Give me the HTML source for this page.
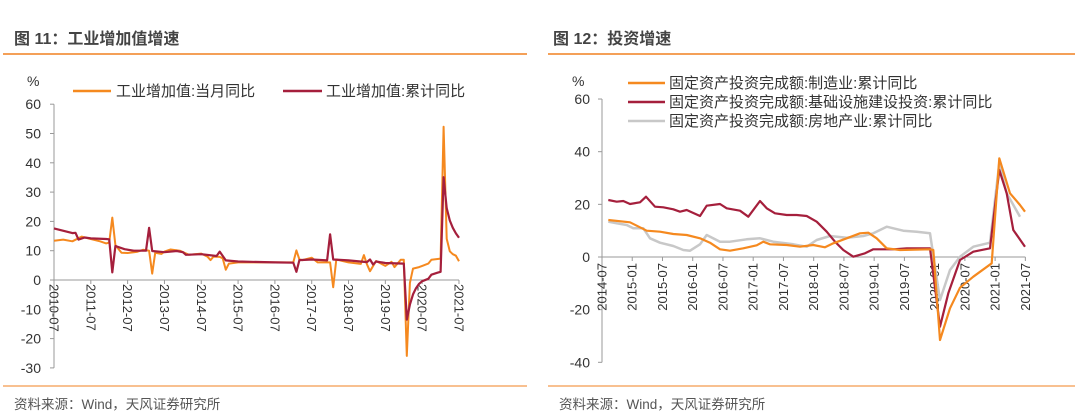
<!DOCTYPE html>
<html><head><meta charset="utf-8"><style>
body{margin:0;background:#fff;}
svg{display:block;font-family:"Liberation Sans","Noto Sans CJK SC",sans-serif;}
</style></head><body>
<svg id="s" width="1080" height="420" xmlns="http://www.w3.org/2000/svg">
<text x="14" y="44" font-size="16" font-weight="bold" fill="#444">图 11：工业增加值增速</text>
<line x1="3" y1="54" x2="527" y2="54" stroke="#f08020" stroke-width="1.5"/>
<text x="553" y="44" font-size="16" font-weight="bold" fill="#444">图 12：投资增速</text>
<line x1="548" y1="54" x2="1075" y2="54" stroke="#f08020" stroke-width="1.5"/>
<line x1="3" y1="386" x2="527" y2="386" stroke="#f08020" stroke-width="1"/>
<line x1="548" y1="386" x2="1075" y2="386" stroke="#f08020" stroke-width="1"/>
<text x="14" y="409" font-size="13.5" fill="#555">资料来源：Wind，天风证券研究所</text>
<text x="559" y="409" font-size="13.5" fill="#555">资料来源：Wind，天风证券研究所</text>
<g id="L"></g><g id="R"></g>
</svg>
<script>
var NS="http://www.w3.org/2000/svg",L=document.getElementById('L'),R=document.getElementById('R');
function el(p,t,a,txt){var e=document.createElementNS(NS,t);for(var k in a)e.setAttribute(k,a[k]);if(txt!=null)e.textContent=txt;p.appendChild(e);return e;}
function lx(m){return 54+m*3.068;} function ly(v){return 280-v*2.93;}
el(L,'text',{x:27,y:86,'font-size':14,fill:'#333'},'%');
for(var v=60;v>=-30;v-=10){el(L,'text',{x:41,y:ly(v)+5,'font-size':14,fill:'#333','text-anchor':'end'},v);el(L,'line',{x1:50,x2:54,y1:ly(v),y2:ly(v),stroke:'#999'});}
el(L,'line',{x1:54,x2:54,y1:ly(60),y2:ly(-30),stroke:'#999'});
el(L,'line',{x1:54,x2:lx(132),y1:280,y2:280,stroke:'#999'});
for(var i=0;i<=11;i++){var x=lx(i*12);el(L,'line',{x1:x,x2:x,y1:280,y2:284,stroke:'#999'});el(L,'text',{transform:'translate('+(x-4.5)+',284) rotate(90)','font-size':13,fill:'#333'},(2010+i)+'-07');}
function path(p,pts,fx,fy,c,w){var d='';pts.forEach(function(q,i){d+=(i?'L':'M')+fx(q[0]).toFixed(1)+' '+fy(q[1]).toFixed(1);});el(p,'path',{d:d,fill:'none',stroke:c,'stroke-width':w,'stroke-linejoin':'round'});}
var lo=[[0,13.4],[3,13.8],[6,13.2],[9,14.8],[12,14],[15,13.2],[17,12.5],[18,12.8],[19,21.3],[20,11.9],[22,9.3],[24,9.2],[27,9.6],[29,10.3],[31,10],[32,2.2],[33,9.3],[35,8.9],[36,9.7],[38,10.4],[41,10],[44,8.6],[48,9],[50,8],[51,6.8],[52,8],[54,7.9],[55,7.4],[56,3.5],[57,5.6],[60,6],[66,6],[72,6],[78,6],[79,10.1],[80,7],[81,6.8],[84,7.6],[86,6],[90,6],[91,-2.5],[92,7],[96,6],[100,5.5],[101,8.5],[102,5.4],[103,3],[105,6.5],[108,4.8],[110,6.2],[111,4.4],[113,6.9],[114,6.9],[115,-25.9],[116,-1],[117,3.9],[119,4.4],[120,4.8],[122,5.6],[123,6.9],[126,7.3],[127,52.3],[128,14.1],[129,9.8],[130,8.8],[131,8.3],[132,6.4]];
var lr=[[0,17.6],[6,16],[7,16.1],[8,13.8],[10,14.5],[12,14.2],[17,14],[18,13.9],[19,2.6],[20,11.6],[23,10.5],[26,10],[30,10],[31,17.8],[32,9.9],[36,9.5],[40,9.9],[42,9.5],[43,8.6],[48,8.8],[53,8.2],[54,9.7],[56,6.7],[60,6.3],[72,6],[78,5.9],[79,2.8],[80,6.8],[84,7],[89,6.7],[90,15.6],[91,7],[96,6.7],[102,6.1],[103,7],[104,5.3],[105,6.3],[108,5.8],[114,5.6],[115,-13.5],[116,-8.4],[117,-4.9],[118,-2.8],[119,-1.3],[120,-0.4],[122,0.4],[123,1.8],[125,2.5],[126,2.8],[127,35.1],[128,24.5],[129,20.3],[130,17.8],[131,15.9],[132,14.4]];
path(L,lo,lx,ly,'#f5891f',2);path(L,lr,lx,ly,'#a51f3c',2.2);
el(L,'line',{x1:73,x2:111,y1:91,y2:91,stroke:'#f5891f','stroke-width':2.5});
el(L,'text',{x:116,y:96,'font-size':15,fill:'#333'},'工业增加值:当月同比');
el(L,'line',{x1:283,x2:322,y1:91,y2:91,stroke:'#a51f3c','stroke-width':2.5});
el(L,'text',{x:326,y:96,'font-size':15,fill:'#333'},'工业增加值:累计同比');
function rx(m){return 602+m*5.04;} function ry(v){return 257-v*2.633;}
el(R,'text',{x:572,y:86,'font-size':14,fill:'#333'},'%');
for(var v=60;v>=-40;v-=20){el(R,'text',{x:590,y:ry(v)+5,'font-size':14,fill:'#333','text-anchor':'end'},v);el(R,'line',{x1:598,x2:602,y1:ry(v),y2:ry(v),stroke:'#999'});}
el(R,'line',{x1:602,x2:602,y1:ry(60),y2:ry(-40),stroke:'#999'});
el(R,'line',{x1:602,x2:rx(84),y1:257,y2:257,stroke:'#999'});
for(var i=0;i<=14;i++){var x=rx(i*6),yr=2014+Math.floor((i+1)/2),mo=(i%2==0)?'07':'01';el(R,'line',{x1:x,x2:x,y1:257,y2:261,stroke:'#999'});el(R,'text',{transform:'translate('+(x+4.5)+',263) rotate(-90)','font-size':13,fill:'#333','text-anchor':'end'},yr+'-'+mo);}
function cv(a){return a.map(function(q){return [(q[0]/3-62)/5.04,(197-q[1]/3)/2.633];});}
var ro=cv([[205,480],[270,487],[320,512],[360,515],[400,522],[440,525],[480,535],[510,548],[540,568],[570,572],[610,565],[650,556],[670,545],[690,553],[740,555],[780,560],[820,555],[855,562],[880,550],[920,535],[960,520],[985,518],[1010,535],[1040,565],[1080,570],[1170,568],[1180,570],[1200,840],[1230,745],[1260,683],[1300,650],[1355,610],[1378,295],[1410,400],[1440,435],[1455,455]]);
var rr=cv([[205,420],[230,425],[250,423],[270,432],[300,427],[318,410],[345,440],[370,442],[400,448],[420,455],[440,450],[480,468],[500,437],[540,432],[560,445],[600,452],[625,470],[660,423],[680,445],[705,460],[740,465],[770,465],[800,468],[830,485],[860,515],[885,545],[910,570],[940,590],[975,580],[1000,568],[1060,568],[1100,565],[1170,565],[1200,800],[1225,700],[1260,600],[1300,575],[1350,565],[1378,330],[1400,400],[1420,510],[1455,560]]);
var rg=cv([[205,485],[230,490],[260,495],[280,505],[310,505],[330,535],[360,548],[400,558],[430,570],[450,572],[480,553],[500,525],[540,545],[570,545],[620,538],[660,535],[700,545],[760,553],[800,560],[830,540],[870,528],[920,533],[970,528],[1000,520],[1040,500],[1060,505],[1090,512],[1130,515],[1170,520],[1200,720],[1230,630],[1260,590],[1300,560],[1350,548],[1378,310],[1400,400],[1440,470]]);
path(R,rg,rx,ry,'#c8c8c8',2.5);path(R,rr,rx,ry,'#a51f3c',2.2);path(R,ro,rx,ry,'#f5891f',2.2);
var lg=[['#f5891f','固定资产投资完成额:制造业:累计同比'],['#a51f3c','固定资产投资完成额:基础设施建设投资:累计同比'],['#c8c8c8','固定资产投资完成额:房地产业:累计同比']];
lg.forEach(function(g,i){var y=83+i*19;el(R,'line',{x1:628,x2:665,y1:y,y2:y,stroke:g[0],'stroke-width':2.5});el(R,'text',{x:669,y:y+5,'font-size':15,fill:'#333'},g[1]);});
</script>
</body></html>
